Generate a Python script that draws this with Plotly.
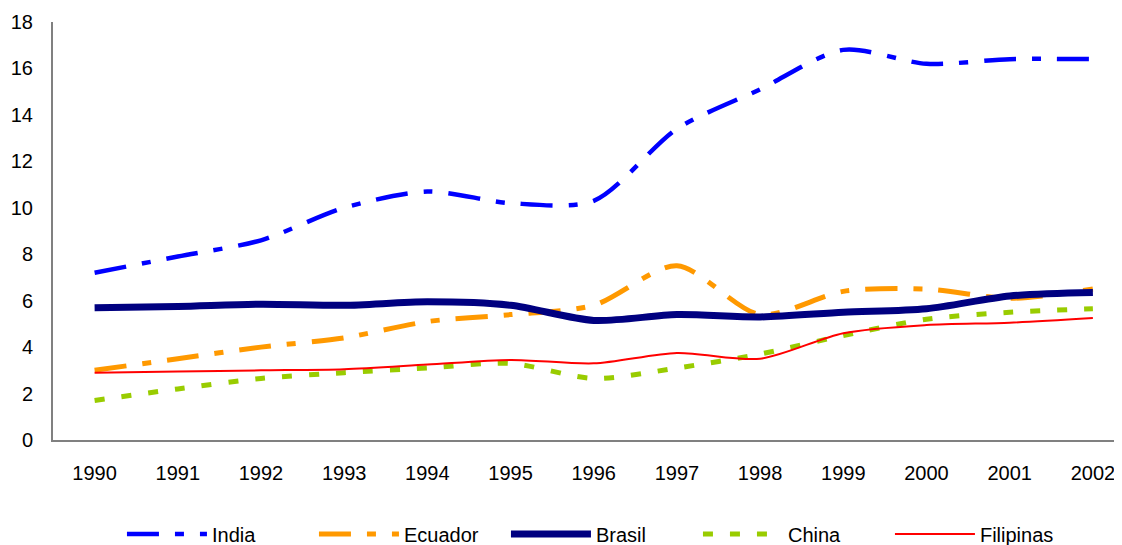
import plotly.graph_objects as go

# years on the category axis
years = ["1990", "1991", "1992", "1993", "1994", "1995", "1996",
         "1997", "1998", "1999", "2000", "2001", "2002"]

india = [7.2, 7.9, 8.6, 10.0, 10.7, 10.2, 10.3, 13.4, 15.1, 16.8, 16.2, 16.4, 16.4]
ecuador = [3.0, 3.5, 4.0, 4.4, 5.1, 5.4, 5.8, 7.5, 5.4, 6.4, 6.5, 6.1, 6.5]
brasil = [5.7, 5.75, 5.85, 5.8, 5.95, 5.8, 5.15, 5.4, 5.3, 5.5, 5.65, 6.2, 6.35]
china = [1.7, 2.2, 2.65, 2.9, 3.1, 3.3, 2.65, 3.1, 3.7, 4.5, 5.2, 5.5, 5.65]
filipinas = [2.9, 2.95, 3.0, 3.05, 3.25, 3.45, 3.3, 3.75, 3.5, 4.6, 4.95, 5.05, 5.25]

FONT = "Liberation Sans, Arial, sans-serif"

series = [
    ("India", india, "#0000FF", 4.5, "32px,16px,9px,16px"),
    ("Ecuador", ecuador, "#FF9900", 5, "32px,16px,9px,16px"),
    ("Brasil", brasil, "#000080", 7, "solid"),
    ("China", china, "#99CC00", 5, "10px,17px"),
    ("Filipinas", filipinas, "#FF0000", 2, "solid"),
]

fig = go.Figure()
for name, vals, color, width, dash in series:
    fig.add_trace(go.Scatter(
        x=list(range(len(years))), y=vals, name=name, mode="lines",
        line=dict(color=color, width=width, dash=dash, shape="spline", smoothing=0.8),
    ))

# page body adds an 8px offset, so the figure is a bit smaller than the window
fig.update_layout(
    width=1114, height=537,
    margin=dict(l=45, r=0, t=14, b=105, autoexpand=False),
    paper_bgcolor="white", plot_bgcolor="white",
    font=dict(family=FONT, size=20, color="black"),
    showlegend=True,
    legend=dict(orientation="h", x=0.0645, xanchor="left", y=-0.178, yanchor="top",
                itemwidth=80, entrywidth=97, font=dict(size=20), traceorder="normal"),
    xaxis=dict(
        tickmode="array", tickvals=list(range(len(years))), ticktext=years,
        range=[-0.5, 12.35], showgrid=False, zeroline=False,
        showline=True, linecolor="#808080", linewidth=2, ticks="", ticklabelstandoff=14,
    ),
    yaxis=dict(
        range=[0, 18], dtick=2, showgrid=False, zeroline=False,
        showline=True, linecolor="#808080", linewidth=2, ticks="", ticklabelstandoff=14,
    ),
)

fig.write_html("out.html")
